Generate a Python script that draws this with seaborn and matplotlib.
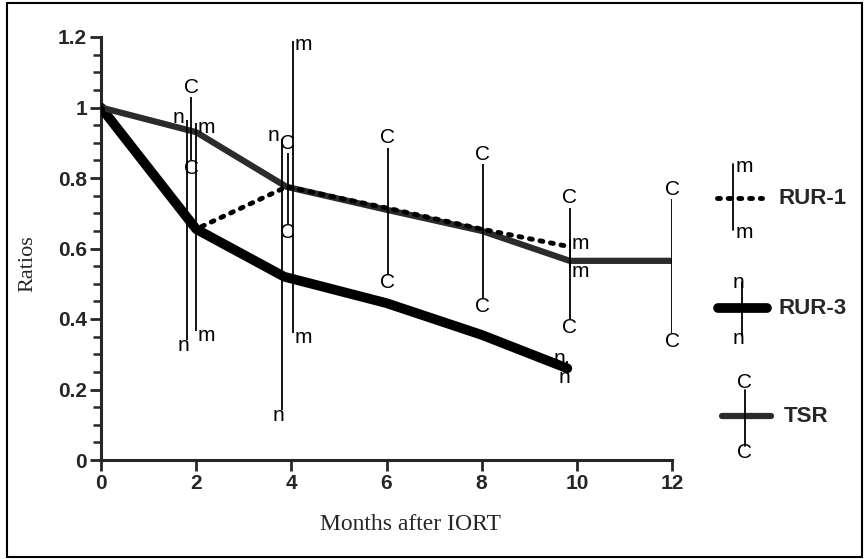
import numpy as np
import pandas as pd
import seaborn as sns
import matplotlib as mpl
import matplotlib.pyplot as plt
from matplotlib.lines import Line2D
from matplotlib.patches import Rectangle
from matplotlib.ticker import MultipleLocator, FuncFormatter

# ratios (months after IORT)
tsr_months = [0, 2, 3.9, 6, 8, 9.85, 12]
tsr_ratio = [1.0, 0.93, 0.775, 0.71, 0.65, 0.565, 0.565]
rur1_months = [0, 2, 3.9, 6, 8, 9.85]
rur1_ratio = [1.0, 0.655, 0.775, 0.715, 0.655, 0.605]
rur3_months = [0, 2, 3.85, 6, 8, 9.8]
rur3_ratio = [1.0, 0.655, 0.52, 0.445, 0.355, 0.26]

# range bars: position, centre, half-range
tsr_bar_x = [1.9, 3.92, 6.03, 8.02, 9.85, 12]
tsr_bar_mid = [0.94, 0.77, 0.706, 0.65, 0.558, 0.55]
tsr_bar_err = [0.09, 0.10, 0.18, 0.19, 0.158, 0.19]
rur1_bar_x = [2.0, 4.03, 9.85]
rur1_bar_mid = [0.66, 0.775, 0.586]
rur1_bar_err = [0.295, 0.415, 0.04]
rur3_bar_x = [1.8, 3.8, 9.8]
rur3_bar_mid = [0.652, 0.527, 0.265]
rur3_bar_err = [0.312, 0.385, 0.015]

x_ticks = [0, 2, 4, 6, 8, 10, 12]
y_ticks = [0, 0.2, 0.4, 0.6, 0.8, 1.0, 1.2]

sns.set_style("ticks")
mpl.rcParams["font.family"] = ["Liberation Sans", "DejaVu Sans"]

W, H = 864, 559
fig = plt.figure(figsize=(W / 100, H / 100), dpi=100)
ax = fig.add_axes([101 / W, 1 - 460 / H, (672 - 101) / W, (460 - 37) / H])

TSR_COL = "#2b2b2b"
LETTER = dict(fontsize=15, family=["Liberation Sans", "DejaVu Sans"], color="black")

df_rur3 = pd.DataFrame({"month": rur3_months, "ratio": rur3_ratio})
df_tsr = pd.DataFrame({"month": tsr_months, "ratio": tsr_ratio})
df_rur1 = pd.DataFrame({"month": rur1_months, "ratio": rur1_ratio})

sns.lineplot(data=df_rur3, x="month", y="ratio", ax=ax, color="black", lw=7,
             sort=False, estimator=None, solid_capstyle="round", zorder=3)
sns.lineplot(data=df_tsr, x="month", y="ratio", ax=ax, color=TSR_COL, lw=4.5,
             sort=False, estimator=None, solid_capstyle="round", zorder=4)
sns.lineplot(data=df_rur1, x="month", y="ratio", ax=ax, color="black", lw=3.5,
             linestyle=(0, (0.6, 1.6)), dash_capstyle="round",
             sort=False, estimator=None, zorder=5)


def range_bars(xs, mids, errs, letter, mode):
    xs, mids, errs = np.asarray(xs), np.asarray(mids), np.asarray(errs)
    ax.vlines(xs, mids - errs, mids + errs, color="black", lw=1.3, zorder=6)
    for x, lo, hi in zip(xs, mids - errs, mids + errs):
        if mode == "c":
            ax.annotate(letter, (x, hi), xytext=(0, 7), textcoords="offset points",
                        ha="center", va="center", zorder=7, **LETTER)
            ax.annotate(letter, (x, lo), xytext=(0, -6), textcoords="offset points",
                        ha="center", va="center", zorder=7, **LETTER)
        elif mode == "m":
            ax.annotate(letter, (x, hi), xytext=(1, -3), textcoords="offset points",
                        ha="left", va="center", zorder=7, **LETTER)
            ax.annotate(letter, (x, lo), xytext=(1, -3), textcoords="offset points",
                        ha="left", va="center", zorder=7, **LETTER)
        else:
            ax.annotate(letter, (x, hi), xytext=(-1.5, 2), textcoords="offset points",
                        ha="right", va="center", zorder=7, **LETTER)
            ax.annotate(letter, (x, lo), xytext=(2, -4), textcoords="offset points",
                        ha="right", va="center", zorder=7, **LETTER)


range_bars(tsr_bar_x, tsr_bar_mid, tsr_bar_err, "C", "c")
range_bars(rur1_bar_x, rur1_bar_mid, rur1_bar_err, "m", "m")
range_bars(rur3_bar_x, rur3_bar_mid, rur3_bar_err, "n", "n")

ax.set_xlim(0, 12)
ax.set_ylim(0, 1.2)
ax.set_xticks(x_ticks)
ax.set_yticks(y_ticks)
ax.yaxis.set_minor_locator(MultipleLocator(0.05))
ax.yaxis.set_major_formatter(FuncFormatter(lambda v, p: f"{v:g}"))
ax.set_xlabel("")
ax.set_ylabel("")
for s in ["top", "right"]:
    ax.spines[s].set_visible(False)
for s in ["left", "bottom"]:
    ax.spines[s].set_linewidth(2.2)
ax.tick_params(axis="both", which="major", direction="out", length=8, width=2,
               labelsize=15, pad=2)
ax.tick_params(axis="y", which="minor", direction="out", length=6, width=1.8)
for lab in ax.get_xticklabels() + ax.get_yticklabels():
    lab.set_fontweight("bold")
ax.margins(0)

fig.text(410 / W, 1 - 525 / H, "Months after IORT", family="Liberation Serif",
         fontsize=17, ha="center", va="center")
fig.text(28 / W, 1 - 264 / H, "Ratios", family="Liberation Serif",
         fontsize=16, ha="center", va="center", rotation=90)

# overlay in pixel coordinates: frame and hand-made legend
ov = fig.add_axes([0, 0, 1, 1], zorder=-1)
ov.set_xlim(0, W)
ov.set_ylim(H, 0)
ov.axis("off")
ov.add_patch(Rectangle((7, 3), 855, 554, fill=False, lw=1.5, ec="black"))

ov.add_line(Line2D([717, 762], [198, 198], color="black", lw=3.5,
                   linestyle=(0, (0.6, 1.6)), dash_capstyle="round"))
ov.add_line(Line2D([733, 733], [164, 230], color="black", lw=1.3))
ov.text(736, 166, "m", ha="left", va="center", **LETTER)
ov.text(736, 232, "m", ha="left", va="center", **LETTER)
ov.text(778, 198, "RUR-1", fontsize=16, fontweight="bold", va="center", ha="left")

ov.add_line(Line2D([718, 767], [308, 308], color="black", lw=7, solid_capstyle="round"))
ov.add_line(Line2D([742, 742], [282, 336], color="black", lw=1.3))
ov.text(744, 283, "n", ha="right", va="center", **LETTER)
ov.text(744, 339, "n", ha="right", va="center", **LETTER)
ov.text(778, 308, "RUR-3", fontsize=16, fontweight="bold", va="center", ha="left")

ov.add_line(Line2D([722, 771], [416, 416], color=TSR_COL, lw=4.5, solid_capstyle="round"))
ov.add_line(Line2D([745, 745], [390, 446], color="black", lw=1.3))
ov.text(745, 383, "C", ha="center", va="center", **LETTER)
ov.text(745, 452, "C", ha="center", va="center", **LETTER)
ov.text(784, 416, "TSR", fontsize=16, fontweight="bold", va="center", ha="left")

fig.savefig("out.png", dpi=100)
